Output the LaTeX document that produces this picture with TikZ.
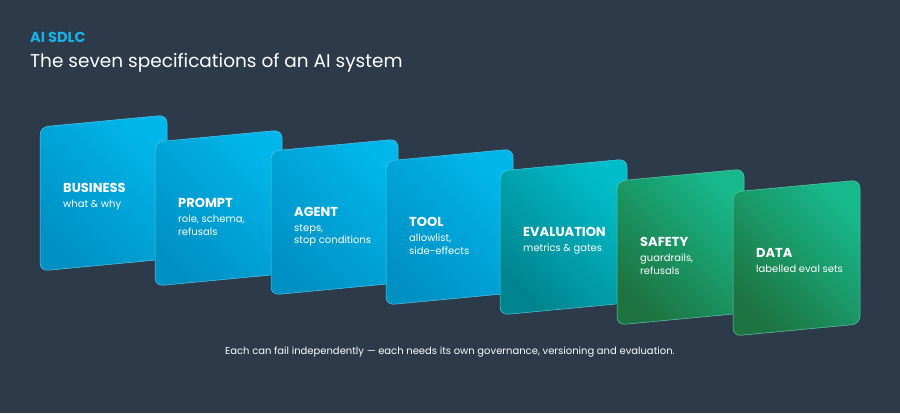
\documentclass[tikz,border=0pt]{standalone}
\usepackage{fontspec}
\setmainfont{Poppins}
\definecolor{bg}{HTML}{2D3A4A}
\definecolor{cyan}{HTML}{1AB0E8}
\definecolor{bA}{HTML}{0090C4}\definecolor{bB}{HTML}{00B6EA}
\definecolor{tA}{HTML}{00848F}\definecolor{tB}{HTML}{00BDC9}
\definecolor{gA}{HTML}{1E7440}\definecolor{gB}{HTML}{17B88C}
\begin{document}
\begin{tikzpicture}[x=1pt,y=-1pt,
  lab/.style={anchor=north west,text=white,font=\bfseries\fontsize{13}{15}\selectfont,inner sep=0pt},
  sub/.style={anchor=north west,text=white,font=\fontsize{10}{12.5}\selectfont,align=left,inner sep=0pt}]
\fill[bg] (0,0) rectangle (900,413);
\useasboundingbox (0,0) rectangle (900,413);
\node[anchor=west,text=cyan,font=\fontsize{14.5}{16}\selectfont\bfseries,inner sep=0pt] (t1) at (30,37) {AI SDLC};
\node[anchor=west,text=white,font=\fontsize{18.5}{20}\selectfont,inner sep=0pt] (t2) at (30,63) {The seven specifications of an AI system};
\newcommand\card[7]{%
  \shade[rounded corners=8pt,left color=#4,right color=#5,shading angle=135,draw=#5!70!white,line width=0.5pt]
   (#1,#2) -- (#1+127,#2-12) -- (#1+127,#2+132) -- (#1,#2+144) -- cycle;
  \node[lab] (l#3) at (#1+23,#2+56) {#6};
  \node[sub] (s#3) at (#1+23,#2+73) {#7};}
\card{40}{127}{1}{bA}{bB}{BUSINESS}{what \& why}
\card{155}{142}{2}{bA}{bB}{PROMPT}{role, schema,\\refusals}
\card{271}{151}{3}{bA}{bB}{AGENT}{steps,\\stop conditions}
\card{386}{161}{4}{bA}{bB}{TOOL}{allowlist,\\side-effects}
\card{500}{171}{5}{tA}{tB}{EVALUATION}{metrics \& gates}
\card{617}{181}{6}{gA}{gB}{SAFETY}{guardrails,\\refusals}
\card{733}{192}{7}{gA}{gB}{DATA}{labelled eval sets}
\node[text=white,font=\fontsize{10}{12}\selectfont,inner sep=0pt] (foot) at (450,352) {Each can fail independently — each needs its own governance, versioning and evaluation.};
\end{tikzpicture}
\end{document}
